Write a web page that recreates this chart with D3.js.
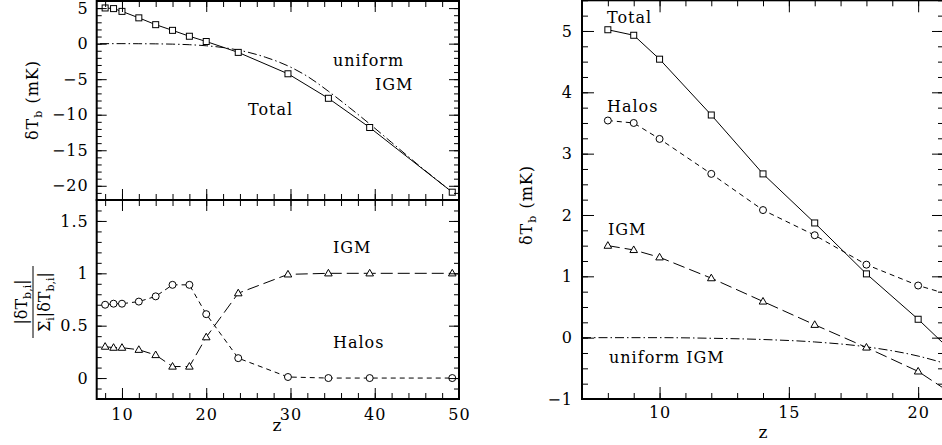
<!DOCTYPE html>
<html><head><meta charset="utf-8">
<script src="https://cdn.jsdelivr.net/npm/d3@7"></script>
<style>
html,body{margin:0;padding:0;background:#fff;}
svg text{font-family:"DejaVu Serif",serif;fill:#000;}
</style></head>
<body><svg id="c" width="942" height="445"></svg>
<script>
// ---- data ----
const zAll = [8, 9, 10, 12, 14, 16, 18, 20, 23.8, 29.7, 34.5, 39.4, 49.2];
const totalAll = [5.02, 4.93, 4.54, 3.63, 2.67, 1.87, 1.04, 0.30, -1.23, -4.24, -7.69, -11.8, -20.9];
const halosFrac = [0.70, 0.71, 0.71, 0.73, 0.78, 0.89, 0.89, 0.61, 0.19, 0.01, 0.0, 0.0, 0.0];
const igmFrac = [0.30, 0.29, 0.29, 0.27, 0.22, 0.11, 0.11, 0.39, 0.81, 0.99, 1.0, 1.0, 1.0];
const zLow = [8, 9, 10, 12, 14, 16, 18, 20, 23.8];
const totalLow = [5.02, 4.93, 4.54, 3.63, 2.67, 1.87, 1.04, 0.30, -1.23];
const halosLow = [3.54, 3.50, 3.24, 2.67, 2.08, 1.67, 1.19, 0.85, 0.38];
const igmLow = [1.50, 1.43, 1.31, 0.97, 0.59, 0.21, -0.16, -0.55, -1.61];
const zUni = [7.4, 10, 12, 14, 16, 18, 20, 22, 24, 27, 30, 32, 34.5, 37, 39.4, 42, 45, 49.2];
const uniform = [0, 0, -0.01, -0.03, -0.07, -0.15, -0.3, -0.55, -0.95, -1.9, -3.3, -4.6, -6.7, -9.0, -11.3, -13.9, -16.9, -20.9];
const zUniR = [7, 10, 12, 14, 16, 18, 20, 22];
const uniformR = [0, 0, -0.01, -0.03, -0.07, -0.15, -0.3, -0.55];
const xTicksL = [10, 20, 30, 40, 50];
const yTicksTop = [5, 0, -5, -10, -15, -20];
const yTicksBot = [0, 0.5, 1, 1.5];
const xTicksR = [10, 15, 20];
const yTicksR = [-1, 0, 1, 2, 3, 4, 5];

const svg = d3.select("#c");
const fmt = d => (d < 0 ? "\u2212" + Math.abs(d) : String(d));

function frameAxes(g, x, y, o) {
  const [x0, x1] = x.range(), [y1, y0] = y.range();
  const w = x1 - x0, h = y1 - y0;
  const add = (axis, tr) => {
    const a = g.append("g").attr("transform", tr).call(axis);
    a.select(".domain").remove();
    a.selectAll("line").attr("stroke", "#000").attr("stroke-width", 1);
    a.selectAll("text").attr("font-size", 16).attr("font-family", "DejaVu Serif").attr("fill", "#000");
    return a;
  };
  add(d3.axisBottom(x).tickValues(o.xMinor).tickSize(-o.minorX).tickFormat(""), `translate(0,${y1})`);
  add(d3.axisTop(x).tickValues(o.xMinor).tickSize(-o.minorX).tickFormat(""), `translate(0,${y0})`);
  const xb = add(d3.axisBottom(x).tickValues(o.xMajor).tickSize(-o.majorX).tickPadding(o.xPad).tickFormat(o.xLabels ? fmt : ""), `translate(0,${y1})`);
  add(d3.axisTop(x).tickValues(o.xMajor).tickSize(-o.majorX).tickFormat(""), `translate(0,${y0})`);
  add(d3.axisLeft(y).tickValues(o.yMinor).tickSize(-o.minorY).tickFormat(""), `translate(${x0},0)`);
  add(d3.axisRight(y).tickValues(o.yMinor).tickSize(-o.minorY).tickFormat(""), `translate(${x1},0)`);
  const yl = add(d3.axisLeft(y).tickValues(o.yMajor).tickSize(-o.majorY).tickPadding(o.yPad).tickFormat(fmt), `translate(${x0},0)`);
  yl.selectAll("text").attr("letter-spacing", 1);
  xb.selectAll("text").attr("letter-spacing", 1);
  add(d3.axisRight(y).tickValues(o.yMajor).tickSize(-o.majorY).tickFormat(""), `translate(${x1},0)`);
  g.append("rect").attr("x", x0).attr("y", y0).attr("width", w).attr("height", h)
    .attr("fill", "none").attr("stroke", "#000").attr("stroke-width", 2);
}

function series(g, x, y, zs, vs, dash, marker, clipId) {
  const line = d3.line().x((d, i) => x(zs[i])).y(d => y(d));
  const gg = g.append("g").attr("clip-path", clipId ? `url(#${clipId})` : null);
  gg.append("path").attr("d", line(vs)).attr("fill", "none").attr("stroke", "#000")
    .attr("stroke-width", 1).attr("stroke-dasharray", dash);
  const pts = vs.map((v, i) => [x(zs[i]), y(v)]);
  pts.forEach(([px, py]) => {
    if (marker === "square") gg.append("rect").attr("x", px - 3).attr("y", py - 3).attr("width", 6).attr("height", 6)
      .attr("fill", "#fff").attr("stroke", "#000").attr("stroke-width", 1);
    else if (marker === "circle") gg.append("circle").attr("cx", px).attr("cy", py).attr("r", 3.5)
      .attr("fill", "#fff").attr("stroke", "#000").attr("stroke-width", 1);
    else if (marker === "tri") gg.append("path").attr("d", `M${px},${py - 4}L${px + 3.8},${py + 2.6}L${px - 3.8},${py + 2.6}Z`)
      .attr("fill", "#fff").attr("stroke", "#000").attr("stroke-width", 1);
  });
}

const defs = svg.append("defs");
function clip(id, x, y) {
  defs.append("clipPath").attr("id", id).append("rect")
    .attr("x", x.range()[0]).attr("y", y.range()[1])
    .attr("width", x.range()[1] - x.range()[0]).attr("height", y.range()[0] - y.range()[1]);
}

const dashH = "5,4", dashI = "12,5", dashU = "9,3,1.5,3";

// ---- left top ----
const xL = d3.scaleLinear().domain([7, 50]).range([96.7, 459]);
const yT = d3.scaleLinear().domain([-22, 6]).range([200, 1]);
const yB = d3.scaleLinear().domain([-0.2, 1.7]).range([399, 200]);
clip("cT", xL, yT); clip("cB", xL, yB);
const gT = svg.append("g");
const uniLine = d3.line().curve(d3.curveMonotoneX).x((d, i) => xL(zUni[i])).y(d => yT(d));
gT.append("path").attr("clip-path", "url(#cT)").attr("d", uniLine(uniform)).attr("fill", "none")
  .attr("stroke", "#000").attr("stroke-width", 1).attr("stroke-dasharray", dashU);
series(gT, xL, yT, zAll, totalAll, null, "square", "cT");
const d2 = d3.range(8, 51, 2);
frameAxes(gT, xL, yT, {xMinor: d2, xMajor: xTicksL, xLabels: false, xPad: 0, minorX: 6, majorX: 11,
  yMinor: d3.range(-22, 7, 1), yMajor: yTicksTop, minorY: 5, majorY: 10, yPad: 8});
gT.append("text").attr("x", 333).attr("y", 66).attr("font-size", 16).attr("letter-spacing", 1).text("uniform");
gT.append("text").attr("x", 375).attr("y", 90).attr("font-size", 16).attr("letter-spacing", 1).text("IGM");
gT.append("text").attr("x", 248).attr("y", 115).attr("font-size", 16).attr("letter-spacing", 1).text("Total");
const yl1 = gT.append("text").attr("transform", "translate(38,100) rotate(-90)").attr("text-anchor", "middle")
  .attr("font-size", 16).attr("letter-spacing", 1);
yl1.append("tspan").text("\u03b4T");
yl1.append("tspan").attr("font-size", 11).attr("dy", 4).text("b");
yl1.append("tspan").attr("dy", -4).text(" (mK)");

// ---- left bottom ----
const gB = svg.append("g");
series(gB, xL, yB, zAll, halosFrac, dashH, "circle", "cB");
series(gB, xL, yB, zAll, igmFrac, dashI, "tri", "cB");
frameAxes(gB, xL, yB, {xMinor: d2, xMajor: xTicksL, xLabels: true, xPad: 10, minorX: 6, majorX: 11,
  yMinor: d3.range(-0.2, 1.71, 0.1).map(v => +v.toFixed(2)), yMajor: yTicksBot, minorY: 5, majorY: 10, yPad: 8});
gB.append("text").attr("x", 333).attr("y", 253).attr("font-size", 16).attr("letter-spacing", 1).text("IGM");
gB.append("text").attr("x", 333).attr("y", 348).attr("font-size", 16).attr("letter-spacing", 1).text("Halos");
gB.append("text").attr("x", 277).attr("y", 431).attr("text-anchor", "middle").attr("font-size", 17).text("z");
const fr = gB.append("g").attr("transform", "translate(33,302) rotate(-90)");
const num = fr.append("text").attr("y", -6).attr("text-anchor", "middle").attr("font-size", 16);
num.append("tspan").text("|\u03b4T");
num.append("tspan").attr("font-size", 11).attr("dy", 4).text("b,i");
num.append("tspan").attr("dy", -4).text("|");
fr.append("line").attr("x1", -36).attr("x2", 36).attr("y1", 0).attr("y2", 0).attr("stroke", "#000").attr("stroke-width", 1);
const den = fr.append("text").attr("y", 17).attr("text-anchor", "middle").attr("font-size", 16);
den.append("tspan").text("\u03a3");
den.append("tspan").attr("font-size", 11).attr("dy", 4).text("i");
den.append("tspan").attr("dy", -4).text("|\u03b4T");
den.append("tspan").attr("font-size", 11).attr("dy", 4).text("b,i");
den.append("tspan").attr("dy", -4).text("|");

// ---- right panel ----
const xR = d3.scaleLinear().domain([7, 21]).range([582, 944]);
const yR = d3.scaleLinear().domain([-1, 5.5]).range([399, 0.3]);
clip("cR", xR, yR);
const gR = svg.append("g");
const uniLineR = d3.line().curve(d3.curveMonotoneX).x((d, i) => xR(zUniR[i])).y(d => yR(d));
gR.append("path").attr("clip-path", "url(#cR)").attr("d", uniLineR(uniformR)).attr("fill", "none")
  .attr("stroke", "#000").attr("stroke-width", 1).attr("stroke-dasharray", dashU);
series(gR, xR, yR, zLow, totalLow, null, "square", "cR");
series(gR, xR, yR, zLow, halosLow, dashH, "circle", "cR");
series(gR, xR, yR, zLow, igmLow, dashI, "tri", "cR");
frameAxes(gR, xR, yR, {xMinor: d3.range(7, 22, 1), xMajor: xTicksR, xLabels: true, xPad: 8, minorX: 6, majorX: 12,
  yMinor: d3.range(-1, 5.51, 0.25), yMajor: yTicksR, minorY: 6, majorY: 12, yPad: 9});
gR.append("text").attr("x", 607).attr("y", 23).attr("font-size", 16).attr("letter-spacing", 1).text("Total");
gR.append("text").attr("x", 607).attr("y", 112).attr("font-size", 16).attr("letter-spacing", 1).text("Halos");
gR.append("text").attr("x", 608).attr("y", 235).attr("font-size", 16).attr("letter-spacing", 1).text("IGM");
gR.append("text").attr("x", 609).attr("y", 363).attr("font-size", 16).attr("letter-spacing", 1).text("uniform IGM");
gR.append("text").attr("x", 763).attr("y", 438).attr("text-anchor", "middle").attr("font-size", 17).text("z");
const yl2 = gR.append("text").attr("transform", "translate(532,205) rotate(-90)").attr("text-anchor", "middle")
  .attr("font-size", 16).attr("letter-spacing", 1);
yl2.append("tspan").text("\u03b4T");
yl2.append("tspan").attr("font-size", 11).attr("dy", 4).text("b");
yl2.append("tspan").attr("dy", -4).text(" (mK)");
</script></body></html>
